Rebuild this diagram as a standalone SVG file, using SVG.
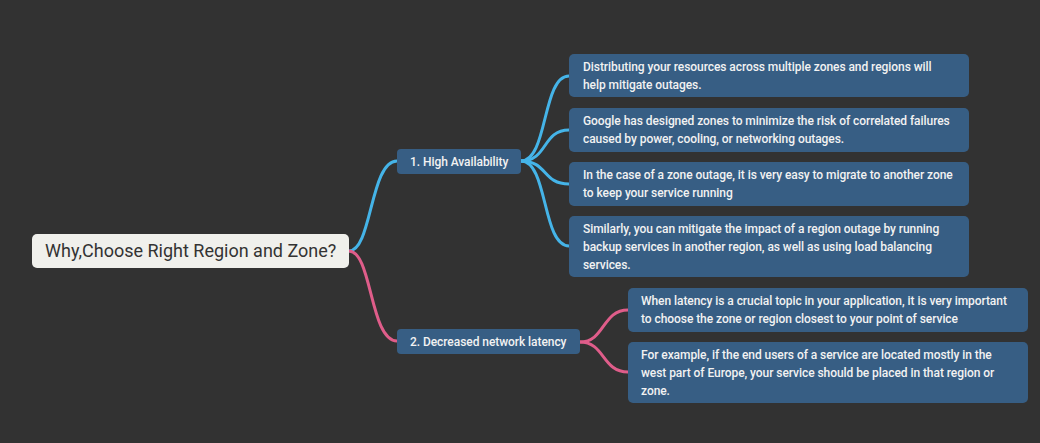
<svg xmlns="http://www.w3.org/2000/svg" width="1040" height="443" viewBox="0 0 1040 443">
<style>
.bg{fill:#323232}
.node rect{fill:#375e84}
.t{font-family:Roboto,"Liberation Sans",sans-serif;font-size:12px;fill:#f2f2f2;font-weight:500;letter-spacing:-0.06px}
.root rect{fill:#f0f0ec}
.rt{font-family:Roboto,"Liberation Sans",sans-serif;font-size:18px;fill:#333333}
.cb{fill:none;stroke:#45b4e8;stroke-width:3;stroke-linecap:round}
.cp{fill:none;stroke:#df5d8a;stroke-width:3;stroke-linecap:round}
</style>
<rect class="bg" width="1040" height="443"/>
<g id="connectors">
<path class="cb" d="M349,251 C372,251 370,161 397,161"/>
<path class="cp" d="M349,251 C372,251 370,341 397,341"/>
<path class="cb" d="M521,161 C548,161 542,76 569,76"/>
<path class="cb" d="M521,161 C548,161 542,130 569,130"/>
<path class="cb" d="M521,161 C548,161 542,184 569,184"/>
<path class="cb" d="M521,161 C548,161 542,246 569,246"/>
<path class="cp" d="M580,342 C605,342 602,310 628,310"/>
<path class="cp" d="M580,342 C605,342 602,372 628,372"/>
</g>
<g id="root" class="root">
<rect x="32" y="234" width="317" height="34" rx="5"/>
<text class="rt" x="45" y="257">Why,Choose Right Region and Zone?</text>
</g>
<g id="n1" class="node">
<rect x="397" y="149" width="124" height="25" rx="4"/>
<text class="t" x="410" y="166">1. High Availability</text>
</g>
<g id="n2" class="node">
<rect x="397" y="329" width="183" height="25" rx="4"/>
<text class="t" x="410" y="346">2. Decreased network latency</text>
</g>
<g id="l1" class="node">
<rect x="569" y="54" width="400" height="43" rx="5"/>
<text class="t" x="583" y="71">Distributing your resources across multiple zones and regions will</text>
<text class="t" x="583" y="89">help mitigate outages.</text>
</g>
<g id="l2" class="node">
<rect x="569" y="108" width="400" height="44" rx="5"/>
<text class="t" x="583" y="125">Google has designed zones to minimize the risk of correlated failures</text>
<text class="t" x="583" y="143">caused by power, cooling, or networking outages.</text>
</g>
<g id="l3" class="node">
<rect x="569" y="162" width="400" height="44" rx="5"/>
<text class="t" x="583" y="179">In the case of a zone outage, it is very easy to migrate to another zone</text>
<text class="t" x="583" y="197">to keep your service running</text>
</g>
<g id="l4" class="node">
<rect x="569" y="216" width="400" height="61" rx="5"/>
<text class="t" x="583" y="233">Similarly, you can mitigate the impact of a region outage by running</text>
<text class="t" x="583" y="251">backup services in another region, as well as using load balancing</text>
<text class="t" x="583" y="269">services.</text>
</g>
<g id="l5" class="node">
<rect x="628" y="288" width="400" height="44" rx="5"/>
<text class="t" x="641" y="305">When latency is a crucial topic in your application, it is very important</text>
<text class="t" x="641" y="323">to choose the zone or region closest to your point of service</text>
</g>
<g id="l6" class="node">
<rect x="628" y="342" width="400" height="61" rx="5"/>
<text class="t" x="641" y="359">For example, if the end users of a service are located mostly in the</text>
<text class="t" x="641" y="377">west part of Europe, your service should be placed in that region or</text>
<text class="t" x="641" y="395">zone.</text>
</g>
</svg>
